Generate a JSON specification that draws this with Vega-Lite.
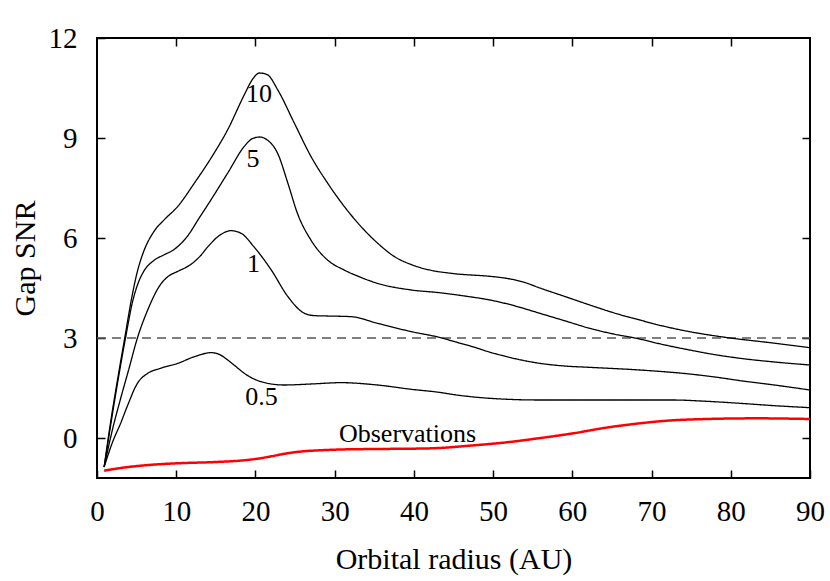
{
  "$schema": "https://vega.github.io/schema/vega-lite/v6.json",
  "width": 713,
  "height": 440,
  "autosize": {"type": "none"},
  "padding": {"left": 97, "top": 38, "right": 20, "bottom": 103},
  "background": "white",
  "config": {
    "view": {"stroke": "black", "strokeWidth": 2},
    "font": "Liberation Serif",
    "axis": {
      "grid": false,
      "domain": false,
      "tickColor": "black",
      "tickWidth": 1.5,
      "labelColor": "black",
      "titleColor": "black",
      "labelFont": "Liberation Serif",
      "titleFont": "Liberation Serif",
      "labelFontSize": 29,
      "titleFontSize": 30,
      "titleFontWeight": "normal",
      "labelFlush": false,
      "labelOverlap": false
    }
  },
  "datasets": {
    "lines": [
      {"s": "thr", "x": 0, "y": 3}, {"s": "thr", "x": 90, "y": 3},
      {"s": "10", "x": 0.9, "y": -0.87}, {"s": "10", "x": 1.8, "y": 0.6}, {"s": "10", "x": 2.7, "y": 1.9}, {"s": "10", "x": 3.5, "y": 3.0}, {"s": "10", "x": 4.3, "y": 4.1}, {"s": "10", "x": 5.1, "y": 5.0}, {"s": "10", "x": 5.9, "y": 5.6}, {"s": "10", "x": 7.2, "y": 6.2}, {"s": "10", "x": 8.5, "y": 6.55}, {"s": "10", "x": 10.2, "y": 6.95}, {"s": "10", "x": 12.3, "y": 7.65}, {"s": "10", "x": 14.4, "y": 8.4}, {"s": "10", "x": 16.5, "y": 9.25}, {"s": "10", "x": 18.6, "y": 10.3}, {"s": "10", "x": 19.6, "y": 10.75}, {"s": "10", "x": 20.5, "y": 10.95}, {"s": "10", "x": 21.5, "y": 10.9}, {"s": "10", "x": 22.8, "y": 10.45}, {"s": "10", "x": 24.9, "y": 9.45}, {"s": "10", "x": 27.0, "y": 8.45}, {"s": "10", "x": 29.1, "y": 7.65}, {"s": "10", "x": 31.2, "y": 6.95}, {"s": "10", "x": 33.3, "y": 6.35}, {"s": "10", "x": 35.4, "y": 5.85}, {"s": "10", "x": 37.5, "y": 5.45}, {"s": "10", "x": 39.7, "y": 5.2}, {"s": "10", "x": 41.8, "y": 5.05}, {"s": "10", "x": 45.1, "y": 4.93}, {"s": "10", "x": 49.6, "y": 4.85}, {"s": "10", "x": 51.7, "y": 4.79}, {"s": "10", "x": 53.8, "y": 4.68}, {"s": "10", "x": 55.9, "y": 4.5}, {"s": "10", "x": 59.0, "y": 4.25}, {"s": "10", "x": 62.2, "y": 3.99}, {"s": "10", "x": 65.3, "y": 3.75}, {"s": "10", "x": 68.5, "y": 3.54}, {"s": "10", "x": 71.6, "y": 3.35}, {"s": "10", "x": 74.8, "y": 3.19}, {"s": "10", "x": 79.0, "y": 3.03}, {"s": "10", "x": 85.3, "y": 2.85}, {"s": "10", "x": 90.0, "y": 2.71},
      {"s": "5", "x": 0.9, "y": -0.87}, {"s": "5", "x": 1.8, "y": 0.5}, {"s": "5", "x": 2.7, "y": 1.8}, {"s": "5", "x": 3.6, "y": 3.0}, {"s": "5", "x": 4.5, "y": 4.1}, {"s": "5", "x": 5.2, "y": 4.65}, {"s": "5", "x": 5.9, "y": 5.0}, {"s": "5", "x": 7.2, "y": 5.33}, {"s": "5", "x": 8.5, "y": 5.5}, {"s": "5", "x": 9.7, "y": 5.65}, {"s": "5", "x": 11.4, "y": 6.05}, {"s": "5", "x": 12.9, "y": 6.6}, {"s": "5", "x": 14.4, "y": 7.15}, {"s": "5", "x": 16.5, "y": 7.95}, {"s": "5", "x": 18.6, "y": 8.75}, {"s": "5", "x": 19.6, "y": 8.98}, {"s": "5", "x": 20.5, "y": 9.03}, {"s": "5", "x": 21.5, "y": 8.94}, {"s": "5", "x": 22.8, "y": 8.54}, {"s": "5", "x": 24.1, "y": 7.64}, {"s": "5", "x": 25.3, "y": 6.74}, {"s": "5", "x": 27.0, "y": 5.94}, {"s": "5", "x": 29.1, "y": 5.34}, {"s": "5", "x": 31.2, "y": 5.04}, {"s": "5", "x": 33.3, "y": 4.82}, {"s": "5", "x": 35.4, "y": 4.64}, {"s": "5", "x": 39.7, "y": 4.44}, {"s": "5", "x": 43.2, "y": 4.36}, {"s": "5", "x": 46.4, "y": 4.26}, {"s": "5", "x": 49.6, "y": 4.14}, {"s": "5", "x": 52.8, "y": 3.96}, {"s": "5", "x": 55.9, "y": 3.74}, {"s": "5", "x": 59.0, "y": 3.52}, {"s": "5", "x": 62.2, "y": 3.29}, {"s": "5", "x": 65.2, "y": 3.12}, {"s": "5", "x": 68.1, "y": 2.99}, {"s": "5", "x": 71.5, "y": 2.8}, {"s": "5", "x": 74.8, "y": 2.64}, {"s": "5", "x": 78.0, "y": 2.5}, {"s": "5", "x": 81.2, "y": 2.39}, {"s": "5", "x": 85.5, "y": 2.28}, {"s": "5", "x": 90.0, "y": 2.19},
      {"s": "1", "x": 0.9, "y": -0.87}, {"s": "1", "x": 2.0, "y": 0.3}, {"s": "1", "x": 3.0, "y": 1.2}, {"s": "1", "x": 4.0, "y": 2.05}, {"s": "1", "x": 5.1, "y": 3.0}, {"s": "1", "x": 6.4, "y": 3.84}, {"s": "1", "x": 8.0, "y": 4.6}, {"s": "1", "x": 9.0, "y": 4.85}, {"s": "1", "x": 10.2, "y": 5.0}, {"s": "1", "x": 11.8, "y": 5.2}, {"s": "1", "x": 13.0, "y": 5.45}, {"s": "1", "x": 14.0, "y": 5.74}, {"s": "1", "x": 15.6, "y": 6.1}, {"s": "1", "x": 16.9, "y": 6.22}, {"s": "1", "x": 18.2, "y": 6.14}, {"s": "1", "x": 19.8, "y": 5.74}, {"s": "1", "x": 22.0, "y": 5.04}, {"s": "1", "x": 24.1, "y": 4.24}, {"s": "1", "x": 26.2, "y": 3.74}, {"s": "1", "x": 27.5, "y": 3.67}, {"s": "1", "x": 29.1, "y": 3.66}, {"s": "1", "x": 32.1, "y": 3.64}, {"s": "1", "x": 35.4, "y": 3.44}, {"s": "1", "x": 39.7, "y": 3.19}, {"s": "1", "x": 43.2, "y": 3.02}, {"s": "1", "x": 45.3, "y": 2.88}, {"s": "1", "x": 47.4, "y": 2.74}, {"s": "1", "x": 49.5, "y": 2.58}, {"s": "1", "x": 51.7, "y": 2.44}, {"s": "1", "x": 55.9, "y": 2.24}, {"s": "1", "x": 59.0, "y": 2.16}, {"s": "1", "x": 62.2, "y": 2.12}, {"s": "1", "x": 68.5, "y": 2.04}, {"s": "1", "x": 74.8, "y": 1.92}, {"s": "1", "x": 78.0, "y": 1.83}, {"s": "1", "x": 81.2, "y": 1.72}, {"s": "1", "x": 85.5, "y": 1.59}, {"s": "1", "x": 90.0, "y": 1.44},
      {"s": "0.5", "x": 0.9, "y": -0.87}, {"s": "0.5", "x": 2.0, "y": -0.1}, {"s": "0.5", "x": 3.0, "y": 0.45}, {"s": "0.5", "x": 3.8, "y": 0.94}, {"s": "0.5", "x": 5.1, "y": 1.64}, {"s": "0.5", "x": 6.4, "y": 1.94}, {"s": "0.5", "x": 8.0, "y": 2.09}, {"s": "0.5", "x": 10.2, "y": 2.24}, {"s": "0.5", "x": 12.3, "y": 2.44}, {"s": "0.5", "x": 14.4, "y": 2.56}, {"s": "0.5", "x": 15.5, "y": 2.5}, {"s": "0.5", "x": 16.5, "y": 2.34}, {"s": "0.5", "x": 17.5, "y": 2.15}, {"s": "0.5", "x": 18.6, "y": 1.94}, {"s": "0.5", "x": 20.7, "y": 1.69}, {"s": "0.5", "x": 23.6, "y": 1.59}, {"s": "0.5", "x": 27.0, "y": 1.62}, {"s": "0.5", "x": 30.8, "y": 1.66}, {"s": "0.5", "x": 35.4, "y": 1.59}, {"s": "0.5", "x": 39.7, "y": 1.46}, {"s": "0.5", "x": 43.2, "y": 1.37}, {"s": "0.5", "x": 45.1, "y": 1.3}, {"s": "0.5", "x": 49.6, "y": 1.19}, {"s": "0.5", "x": 55.9, "y": 1.14}, {"s": "0.5", "x": 64.3, "y": 1.14}, {"s": "0.5", "x": 72.7, "y": 1.14}, {"s": "0.5", "x": 77.0, "y": 1.1}, {"s": "0.5", "x": 81.2, "y": 1.04}, {"s": "0.5", "x": 85.5, "y": 0.97}, {"s": "0.5", "x": 90.0, "y": 0.91},
      {"s": "obs", "x": 0.9, "y": -0.98}, {"s": "obs", "x": 3, "y": -0.9}, {"s": "obs", "x": 6, "y": -0.82}, {"s": "obs", "x": 10, "y": -0.76}, {"s": "obs", "x": 15, "y": -0.72}, {"s": "obs", "x": 18, "y": -0.68}, {"s": "obs", "x": 20, "y": -0.63}, {"s": "obs", "x": 22, "y": -0.55}, {"s": "obs", "x": 24, "y": -0.46}, {"s": "obs", "x": 26, "y": -0.4}, {"s": "obs", "x": 28, "y": -0.37}, {"s": "obs", "x": 30, "y": -0.35}, {"s": "obs", "x": 35, "y": -0.33}, {"s": "obs", "x": 40, "y": -0.32}, {"s": "obs", "x": 43.2, "y": -0.3}, {"s": "obs", "x": 47, "y": -0.23}, {"s": "obs", "x": 51.7, "y": -0.13}, {"s": "obs", "x": 56, "y": 0.0}, {"s": "obs", "x": 60.1, "y": 0.14}, {"s": "obs", "x": 64, "y": 0.3}, {"s": "obs", "x": 68.5, "y": 0.44}, {"s": "obs", "x": 72, "y": 0.52}, {"s": "obs", "x": 77, "y": 0.57}, {"s": "obs", "x": 83.3, "y": 0.59}, {"s": "obs", "x": 90, "y": 0.57}
    ],
    "labels": [
      {"label": "10", "x": 20.45, "y": 10.08},
      {"label": "5", "x": 19.7, "y": 8.13},
      {"label": "1", "x": 19.76, "y": 4.98},
      {"label": "0.5", "x": 20.77, "y": 0.99},
      {"label": "Observations", "x": 39.2, "y": -0.12}
    ]
  },
  "layer": [
    {
      "data": {"name": "lines"},
      "mark": {"type": "line", "interpolate": "monotone"},
      "encoding": {
        "x": {"field": "x", "type": "quantitative", "scale": {"domain": [0, 90], "nice": false, "zero": false},
              "axis": {"orient": "bottom", "tickSize": -8, "title": "Orbital radius (AU)", "values": [0, 10, 20, 30, 40, 50, 60, 70, 80, 90], "labelPadding": 27, "titleBaseline": "alphabetic", "titleY": 90}},
        "y": {"field": "y", "type": "quantitative", "scale": {"domain": [-1.2, 12], "nice": false, "zero": false},
              "axis": {"orient": "left", "tickSize": -8, "title": "Gap SNR", "values": [0, 3, 6, 9, 12], "labelPadding": 28, "titleBaseline": "alphabetic", "titleX": -63}},
        "detail": {"field": "s", "type": "nominal"},
        "color": {"condition": [{"test": "datum.s === 'obs'", "value": "#ff0000"}, {"test": "datum.s === 'thr'", "value": "#555555"}], "value": "black"},
        "strokeWidth": {"condition": [{"test": "datum.s === 'obs'", "value": 2.5}, {"test": "datum.s === 'thr'", "value": 1.5}], "value": 1.3},
        "strokeDash": {"condition": {"test": "datum.s === 'thr'", "value": [9, 6]}, "value": [1, 0]}
      }
    },
    {
      "data": {"name": "labels"},
      "mark": {"type": "text", "font": "Liberation Serif", "fontSize": 26, "color": "black", "align": "center", "baseline": "alphabetic"},
      "encoding": {
        "x": {"field": "x", "type": "quantitative",
              "axis": {"orient": "top", "title": null, "labelOpacity": 0, "labelFontSize": 10, "tickSize": 8, "offset": -8, "values": [10, 20, 30, 40, 50, 60, 70, 80]}},
        "y": {"field": "y", "type": "quantitative",
              "axis": {"orient": "right", "title": null, "labelOpacity": 0, "labelFontSize": 10, "tickSize": 8, "offset": -8, "values": [0, 3, 6, 9]}},
        "text": {"field": "label", "type": "nominal"}
      }
    }
  ],
  "resolve": {"axis": {"x": "independent", "y": "independent"}}
}
